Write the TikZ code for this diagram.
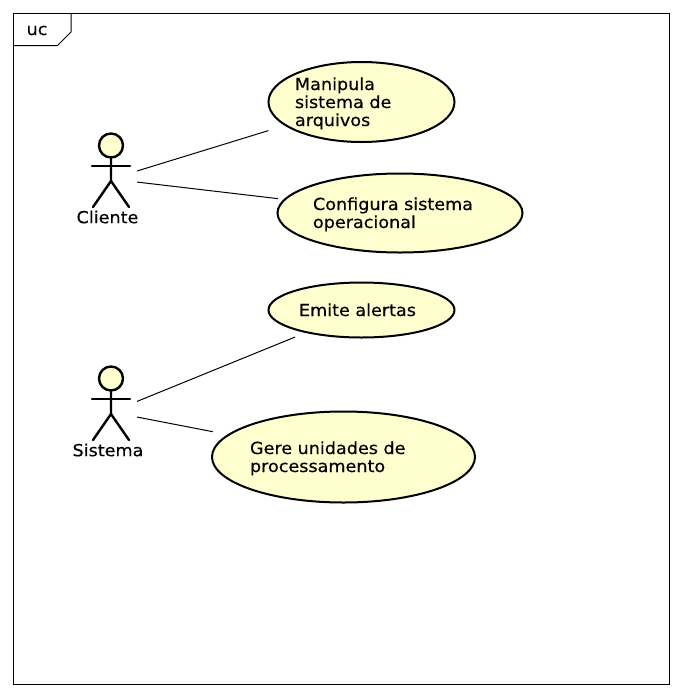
\documentclass[tikz,border=0pt]{standalone}
\usepackage{fontspec}
\setmainfont[FakeStretch=1.06, FakeBold=0.4]{DejaVu Sans}
\usetikzlibrary{shapes.geometric, positioning}
\definecolor{ucfill}{RGB}{254, 254, 206}

\begin{document}
\begin{tikzpicture}[
  x=1pt, y=-1pt,
  ucase/.style={draw, ellipse, fill=ucfill, line width=2pt, inner xsep=-1pt, inner ysep=0pt, align=left, font=\fontsize{16.6}{18}\selectfont, execute at begin node={\rule{0pt}{16pt}}, execute at end node={\rule[-4pt]{0pt}{4pt}}},
  actorbox/.style={minimum width=52pt, minimum height=60pt, inner sep=0pt, outer sep=0pt},
  actorname/.style={inner sep=0pt, font=\fontsize{16.6}{18}\selectfont},
  limb/.style={line width=2.4pt, line cap=round},
  assoc/.style={line width=1pt}
]
  \useasboundingbox (0,0) rectangle (682,697);

  % frame with its tab
  \draw[line width=1pt] (13.5,13.5) rectangle (669.5,684.5);
  \draw[line width=1pt] (71,13.5) -- (71,32) -- (57.5,45.5) -- (13.5,45.5);
  \node[actorname] (frametitle) at (37,30.5) {uc};

  % use cases
  \node[ucase, text width=133pt, minimum width=186pt, minimum height=80pt] (manipula) at (361.5,102) {
    Manipula\\
    sistema de\\
    arquivos
  };
  \node[ucase, text width=174pt, minimum width=245pt, minimum height=79pt] (configura) at (400,213) {
    Configura sistema\\
    operacional
  };
  \node[ucase, text width=125pt, minimum width=186pt, minimum height=55pt] (emite) at (361.5,310) {
    Emite alertas
  };
  \node[ucase, text width=187pt, minimum width=263pt, minimum height=91pt] (gere) at (343.5,457) {
    Gere unidades de\\
    processamento
  };

  % actors
  \node[actorbox] (cliente) at (111,179) {};
  \node[actorbox] (sistema) at (111,412) {};
  \foreach \who/\nudge/\txt in {cliente/-3.5/Cliente, sistema/-3/Sistema} {
    \begin{scope}[shift={(\who)}]
      \draw[limb, fill=ucfill] (0,-33.5) circle (12);
      \draw[limb] (-19,-13) -- (19,-13);
      \draw[limb] (0,-21.5) -- (0,2) -- (-18,28);
      \draw[limb] (0,2) -- (18,28);
      \node[actorname] (\who name) at (\nudge,38) {\txt};
    \end{scope}
  }

  % associations stop short of each ellipse
  \foreach \from/\to/\gap in {cliente/manipula/17pt, cliente/configura/6pt, sistema/emite/11pt, sistema/gere/15pt} {
    \draw[assoc, shorten >=\gap] (\from) -- (\to);
  }
\end{tikzpicture}
\end{document}
